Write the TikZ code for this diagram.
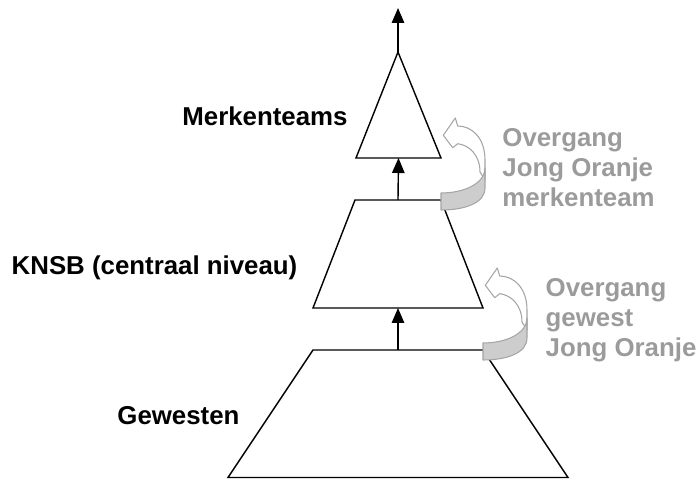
\documentclass[tikz,border=0pt]{standalone}
\usepackage{fontspec}
\setmainfont{Liberation Sans}
\usetikzlibrary{arrows.meta,calc}

\definecolor{overganggrijs}{RGB}{155,155,155}
\definecolor{bandgrijs}{RGB}{165,165,165}
\definecolor{vlakgrijs}{RGB}{205,205,205}

\begin{document}
\begin{tikzpicture}[
	niveau/.style={font=\bfseries\fontsize{14.7pt}{17.07pt}\selectfont, inner sep=0pt, anchor=base west},
	overgang/.style={niveau, text=overganggrijs, align=left},
	omhoog/.style={-{Triangle[width=0.25cm,length=0.3cm]}},
	band/.style={draw=bandgrijs, line width=0.6pt, fill=white, line join=round},
	voorkant/.style={band, fill=vlakgrijs}]
	\useasboundingbox (0,0) rectangle (13.96,9.58);
	\tikzset{every path/.append style={line width=0.8pt}}
	
	
	
	% pyramid
	\draw (7.96,8.54) coordinate(top) -- (8.82,6.42) coordinate(m_r) -- (7.12,6.42) coordinate(m_l) -- cycle;
	\draw (7.10,5.58) coordinate(k_tl) -- (8.82,5.58) coordinate(k_tr) -- (9.66,3.42) coordinate(k_br) -- (6.26,3.42) coordinate(k_bl) -- cycle;
	\draw (6.26,2.58) coordinate(g_tl) -- (9.66,2.58) coordinate(g_tr) -- (11.36,0.03) coordinate(g_br) -- (4.56,0.03) coordinate(g_bl) -- cycle;
	
	
	
	% arrows up
	\coordinate (eind) at (7.96,9.42);
	\draw [omhoog] (top) -- (eind);
	\draw [omhoog] ($(k_tl)!0.5!(k_tr)$) -- ($(m_l)!0.5!(m_r)$);
	\draw [omhoog] ($(g_tl)!0.5!(g_tr)$) -- ($(k_bl)!0.5!(k_br)$);
	
	
	
	% labels
	\node[niveau] (merk) at (3.634,7.06) {Merkenteams};
	\node[niveau] (knsb) at (0.22,4.08) {KNSB (centraal niveau)};
	\node[niveau] (gew) at (2.334,1.08) {Gewesten};
	
	
	
	% curved arrows
	\foreach \dx/\dy in {0/0, 0.84/-3.0}
	{
		\begin{scope}[shift={(\dx,\dy)}]
			\draw [band] (9.70,5.98) -- (9.70,6.38) .. controls (9.70,6.82) and (9.44,7.06) .. (9.154,7.06) -- (9.106,7.22) -- (8.866,6.874) -- (9.054,6.626) -- (9.154,6.706) .. controls (9.38,6.68) and (9.60,6.48) .. (9.60,6.14) -- cycle;
			\draw [voorkant] (8.82,5.72) .. controls (9.30,5.72) and (9.70,5.92) .. (9.70,6.22) -- (9.70,5.82) .. controls (9.70,5.52) and (9.30,5.38) .. (8.82,5.38) -- cycle;
		\end{scope}
	}
	
	\node[overgang] (o_merk) at (10.034,5.446) {Overgang\\Jong Oranje\\merkenteam};
	\node[overgang] (o_gew) at (10.90,2.446) {Overgang\\gewest\\Jong Oranje};
	
\end{tikzpicture}
\end{document}
